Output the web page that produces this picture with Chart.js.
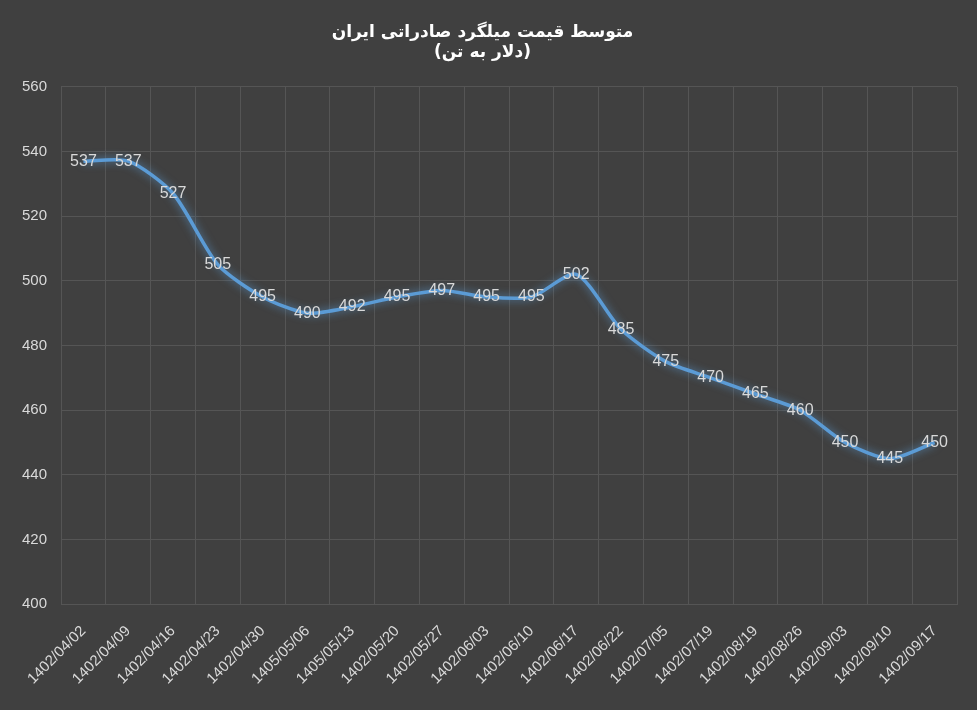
<!DOCTYPE html>
<html><head><meta charset="utf-8">
<script src="https://cdn.jsdelivr.net/npm/chart.js@4/dist/chart.umd.min.js"></script>
<style>html,body{margin:0;padding:0;background:#404040;}#w{width:977px;height:710px;}</style>
</head><body><div id="w"><canvas id="c"></canvas></div>
<script>
const categories=["1402/04/02","1402/04/09","1402/04/16","1402/04/23","1402/04/30","1405/05/06","1405/05/13","1402/05/20","1402/05/27","1402/06/03","1402/06/10","1402/06/17","1402/06/22","1402/07/05","1402/07/19","1402/08/19","1402/08/26","1402/09/03","1402/09/10","1402/09/17"];
const prices=[537,537,527,505,495,490,492,495,497,495,495,502,485,475,470,465,460,450,445,450];
const titleLines=["متوسط قیمت میلگرد صادراتی ایران","(دلار به تن)"];
const labelPlugin={id:'lbl',afterDatasetsDraw(chart){const ctx=chart.ctx;const m=chart.getDatasetMeta(0);ctx.save();ctx.font='16px "Liberation Sans", Arial';ctx.fillStyle='#d9d9d9';ctx.textAlign='center';ctx.textBaseline='middle';m.data.forEach((p,i)=>{ctx.fillText(prices[i],p.x,p.y);});ctx.restore();}};
const glow={id:'glow',beforeDatasetsDraw(c){c.ctx.save();c.ctx.shadowColor='rgba(91,155,213,0.8)';c.ctx.shadowBlur=8;},afterDatasetsDraw(c){c.ctx.restore();}};
new Chart(document.getElementById('c'),{type:'line',
data:{labels:categories,datasets:[{data:prices,borderColor:'#5b9bd5',borderWidth:3.5,pointRadius:0,tension:0.25}]},
options:{responsive:true,maintainAspectRatio:false,animation:false,
layout:{padding:{left:8,right:20,top:22,bottom:4}},
plugins:{legend:{display:false},tooltip:{enabled:false},
title:{display:true,text:titleLines,color:'#ffffff',font:{family:'"DejaVu Sans"',size:17,weight:'bold'},lineHeight:1.6,padding:{top:0,bottom:24}}},
scales:{x:{offset:true,grid:{color:'#555555',offset:true,drawTicks:false},border:{color:'#555555'},ticks:{color:'#d9d9d9',font:{size:15,family:'"Liberation Sans", Arial'},maxRotation:45,minRotation:45,padding:18}},
y:{min:400,max:560,grid:{color:'#555555',drawTicks:false},border:{display:false},ticks:{stepSize:20,color:'#d9d9d9',font:{size:15,family:'"Liberation Sans", Arial'},padding:14}}}},
plugins:[glow,labelPlugin]});
</script></body></html>
